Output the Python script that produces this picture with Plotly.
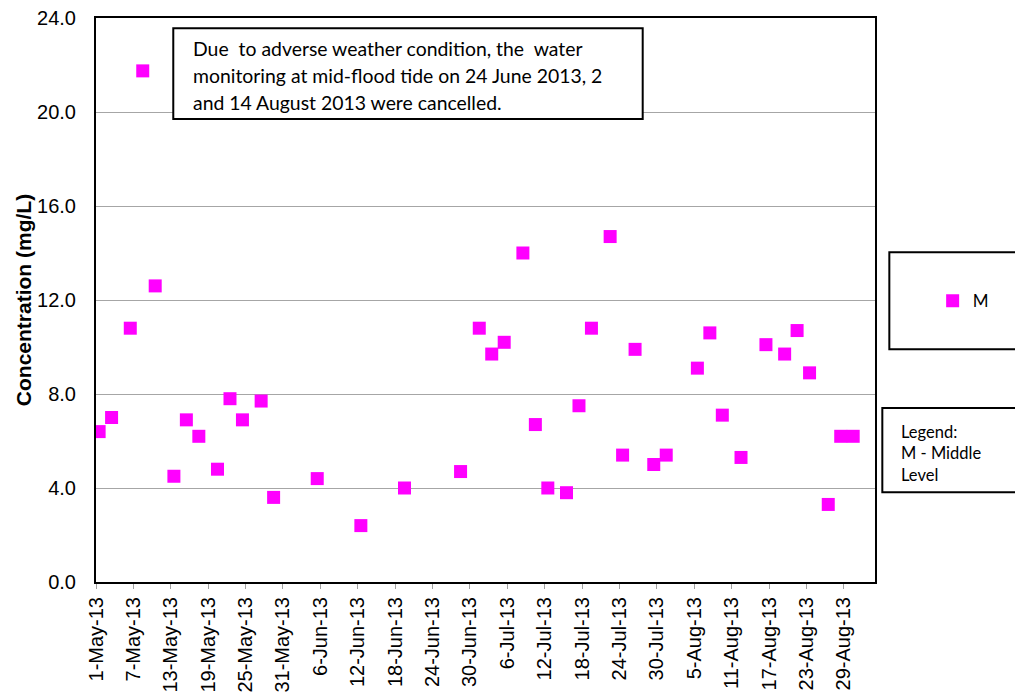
import plotly.graph_objects as go

# ---- data ----
dates = ["2013-05-01", "2013-05-03", "2013-05-06", "2013-05-08", "2013-05-10",
         "2013-05-13", "2013-05-15", "2013-05-17", "2013-05-20", "2013-05-22",
         "2013-05-24", "2013-05-27", "2013-05-29", "2013-06-05", "2013-06-12",
         "2013-06-19", "2013-06-28", "2013-07-01", "2013-07-03", "2013-07-05",
         "2013-07-08", "2013-07-10", "2013-07-12", "2013-07-15", "2013-07-17",
         "2013-07-19", "2013-07-22", "2013-07-24", "2013-07-26", "2013-07-29",
         "2013-07-31", "2013-08-05", "2013-08-07", "2013-08-09", "2013-08-12",
         "2013-08-16", "2013-08-19", "2013-08-21", "2013-08-23", "2013-08-26",
         "2013-08-28", "2013-08-30"]
concentration = [6.4, 7.0, 10.8, 21.75, 12.6,
                 4.5, 6.9, 6.2, 4.8, 7.8,
                 6.9, 7.7, 3.6, 4.4, 2.4,
                 4.0, 4.7, 10.8, 9.7, 10.2,
                 14.0, 6.7, 4.0, 3.8, 7.5,
                 10.8, 14.7, 5.4, 9.9, 5.0,
                 5.4, 9.1, 10.6, 7.1, 5.3,
                 10.1, 9.7, 10.7, 8.9, 3.3,
                 6.2, 6.2]
series_name = "M"
y_title = "Concentration (mg/L)"
note_lines = ["Due  to adverse weather condition, the  water",
              "monitoring at mid-flood tide on 24 June 2013, 2",
              "and 14 August 2013 were cancelled."]
legend_note = "Legend:<br>M - Middle<br>Level"
x_range = ["2013-05-01", "2013-09-03"]
y_range = [0, 24]

DAY_MS = 86400000

fig = go.Figure()
fig.add_trace(go.Scatter(
    x=dates, y=concentration, mode="markers", name=series_name,
    xperiod=DAY_MS, xperiodalignment="middle",
    marker=dict(symbol="square", size=13, color="#FF00FF", line=dict(width=0)),
))

ARIAL = "Liberation Sans, Arial, sans-serif"
CAL = "Lato, Carlito, Calibri, sans-serif"

# the page body has an 8px default margin, so the figure is 8px smaller
fig.update_layout(
    width=1015, height=690,
    margin=dict(l=88, r=148, t=10, b=116, autoexpand=False),
    paper_bgcolor="white", plot_bgcolor="white",
    showlegend=True,
    legend=dict(x=1.074, y=0.498, xanchor="left", yanchor="middle",
                bgcolor="rgba(0,0,0,0)", borderwidth=0,
                font=dict(family=CAL, size=17, color="black")),
    xaxis=dict(
        type="date", range=x_range, tick0="2013-05-01", dtick=6 * DAY_MS,
        tickformat="%-d-%b-%y", tickangle=-90,
        tickfont=dict(family=ARIAL, size=20, color="black"),
        ticks="outside", ticklen=5, tickcolor="#A0A0A0", tickwidth=1,
        ticklabelstandoff=0, ticklabeloverflow="allow",
        showgrid=False, zeroline=False,
        showline=True, linecolor="black", linewidth=2, mirror=True,
        automargin=False,
    ),
    yaxis=dict(
        range=y_range, dtick=4, tick0=0, tickformat=".1f",
        tickfont=dict(family=ARIAL, size=20, color="black"),
        ticks="", ticklabelstandoff=14, ticklabeloverflow="allow",
        showgrid=True, gridcolor="#A6A6A6", gridwidth=1,
        zeroline=False,
        showline=True, linecolor="black", linewidth=2, mirror=True,
        title=dict(text="<b>" + y_title + "</b>", standoff=0,
                   font=dict(family=ARIAL, size=21, color="black")),
        automargin=False,
    ),
)

# note box inside plot
fig.add_shape(type="rect", xref="paper", yref="paper",
              x0=0.0992, x1=0.7018, y0=0.8209, y1=0.9817,
              line=dict(color="black", width=2), fillcolor="white", layer="above")
for line, yy in zip(note_lines, [0.9468, 0.8989, 0.851]):
    fig.add_annotation(text=line, xref="paper", yref="paper", x=0.122, y=yy,
                       xanchor="left", yanchor="middle", showarrow=False,
                       font=dict(family=CAL, size=19.4, color="black"))

# legend box (right)
fig.add_shape(type="rect", xref="paper", yref="paper",
              x0=1.0184, x1=1.25, y0=0.4126, y1=0.5846,
              line=dict(color="black", width=2), fillcolor="rgba(0,0,0,0)")
# legend explanation box
fig.add_shape(type="rect", xref="paper", yref="paper",
              x0=1.0094, x1=1.25, y0=0.159, y1=0.3085,
              line=dict(color="black", width=2), fillcolor="rgba(0,0,0,0)")
fig.add_annotation(text=legend_note, xref="paper", yref="paper", x=1.0308, y=0.2287,
                   xanchor="left", yanchor="middle", align="left", showarrow=False,
                   font=dict(family=CAL, size=16.5, color="black"))

fig.write_html("out.html")
